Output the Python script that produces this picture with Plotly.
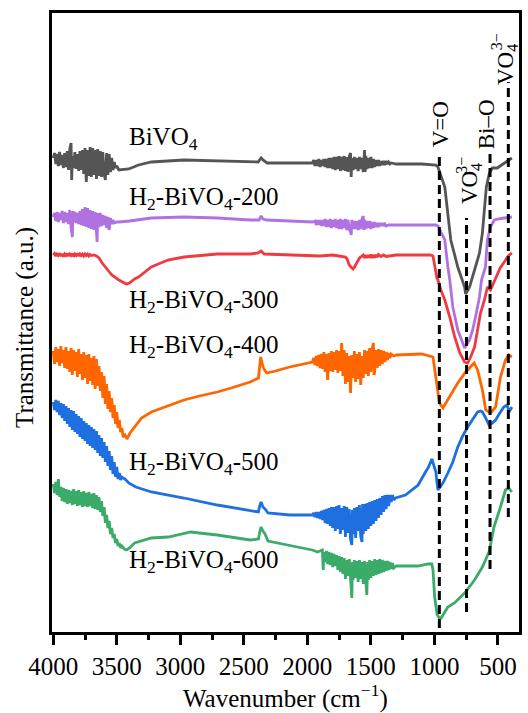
import plotly.graph_objects as go

# FTIR spectra of BiVO4 and H2-treated BiVO4 (wavenumber in cm^-1, offset transmittance in a.u.)
SAMPLES = ["BiVO<sub>4</sub>", "H<sub>2</sub>-BiVO<sub>4</sub>-200", "H<sub>2</sub>-BiVO<sub>4</sub>-300",
           "H<sub>2</sub>-BiVO<sub>4</sub>-400", "H<sub>2</sub>-BiVO<sub>4</sub>-500", "H<sub>2</sub>-BiVO<sub>4</sub>-600"]

BIVO4 = [
    (4000, 476), (3990, 481), (3980, 470), (3970, 480), (3960, 468), (3950, 482), (3940, 469), (3930, 479),
    (3920, 466), (3910, 481), (3900, 467), (3890, 483), (3880, 464), (3870, 485), (3860, 491), (3855, 454),
    (3850, 478), (3840, 466), (3830, 482), (3820, 465), (3810, 480), (3800, 463), (3790, 483), (3780, 464),
    (3770, 484), (3760, 460), (3750, 486), (3740, 452), (3730, 484), (3720, 458), (3710, 487), (3700, 457),
    (3690, 486), (3680, 459), (3670, 484), (3660, 455), (3650, 485), (3640, 458), (3630, 483), (3620, 457),
    (3610, 482), (3600, 460), (3590, 454), (3580, 481), (3570, 459), (3560, 480), (3550, 462), (3540, 476),
    (3530, 464), (3520, 472), (3510, 466), (3500, 468), (3484, 464), (3406, 465), (3329, 469), (3228, 472),
    (2971, 474), (2706, 473), (2450, 472), (2388, 472), (2364, 476), (2349, 474), (2317, 471), (2139, 471),
    (1960, 471), (1950, 474), (1940, 468), (1930, 474), (1920, 468), (1910, 475), (1900, 467), (1890, 474),
    (1880, 468), (1870, 475), (1860, 467), (1850, 475), (1840, 466), (1830, 476), (1820, 466), (1810, 476),
    (1800, 465), (1790, 477), (1780, 464), (1770, 477), (1760, 465), (1750, 478), (1740, 463), (1730, 477),
    (1720, 464), (1710, 478), (1700, 463), (1690, 477), (1680, 462), (1670, 478), (1660, 481), (1655, 457),
    (1650, 476), (1640, 464), (1630, 477), (1620, 465), (1610, 476), (1600, 463), (1590, 477), (1580, 465),
    (1570, 476), (1560, 462), (1550, 484), (1545, 462), (1540, 478), (1530, 465), (1520, 476), (1510, 466),
    (1500, 477), (1490, 466), (1480, 475), (1470, 467), (1460, 474), (1450, 468), (1440, 474), (1430, 468),
    (1420, 473), (1410, 469), (1400, 473), (1390, 469), (1380, 473), (1370, 470), (1360, 472), (1350, 470),
    (1340, 471), (1300, 470), (1100, 470), (988, 469), (972, 467), (918, 447), (894, 421), (871, 394),
    (816, 367), (762, 347), (754, 340), (723, 347), (684, 364), (645, 381), (622, 401), (606, 427),
    (591, 447), (567, 461), (544, 466), (505, 466), (482, 468), (450, 471), (419, 474), (390, 476),
]

H2_200 = [
    (4000, 417), (3990, 421), (3980, 413), (3970, 422), (3960, 412), (3950, 421), (3940, 414), (3930, 423),
    (3920, 411), (3910, 422), (3900, 412), (3890, 421), (3880, 410), (3870, 424), (3860, 407), (3850, 397),
    (3845, 423), (3840, 412), (3830, 422), (3820, 411), (3810, 421), (3800, 410), (3790, 423), (3780, 409),
    (3770, 425), (3760, 408), (3750, 427), (3740, 407), (3730, 426), (3720, 406), (3710, 424), (3700, 405),
    (3690, 423), (3680, 404), (3670, 422), (3660, 396), (3655, 392), (3650, 421), (3640, 407), (3630, 421),
    (3620, 408), (3610, 419), (3600, 409), (3590, 418), (3580, 406), (3570, 417), (3560, 404), (3550, 416),
    (3540, 410), (3530, 414), (3520, 411), (3500, 412), (3484, 412), (3400, 413), (3228, 416), (2971, 417),
    (2706, 416), (2450, 414), (2380, 414), (2364, 418), (2350, 415), (2317, 414), (2139, 413), (1960, 412),
    (1940, 413), (1930, 409), (1920, 414), (1910, 409), (1900, 414), (1890, 408), (1880, 414), (1870, 408),
    (1860, 415), (1850, 407), (1840, 414), (1830, 407), (1820, 415), (1810, 406), (1800, 414), (1790, 407),
    (1780, 415), (1770, 406), (1760, 414), (1750, 405), (1740, 415), (1730, 405), (1720, 414), (1710, 406),
    (1700, 415), (1690, 404), (1680, 414), (1670, 405), (1660, 402), (1655, 399), (1650, 414), (1640, 405),
    (1630, 413), (1620, 405), (1610, 413), (1600, 404), (1590, 414), (1580, 405), (1570, 415), (1560, 418),
    (1555, 404), (1550, 414), (1540, 405), (1530, 413), (1520, 406), (1510, 413), (1500, 405), (1490, 412),
    (1480, 406), (1470, 412), (1460, 407), (1450, 411), (1440, 407), (1430, 411), (1420, 408), (1410, 411),
    (1400, 408), (1390, 410), (1380, 408), (1360, 409), (1100, 409), (988, 409), (972, 408), (918, 394),
    (894, 367), (879, 354), (855, 327), (816, 304), (777, 291), (762, 286), (723, 294), (699, 304),
    (676, 317), (645, 337), (629, 354), (598, 367), (583, 394), (559, 407), (528, 414), (500, 415),
    (450, 416), (390, 417),
]

H2_300 = [
    (4000, 379), (3990, 380.5), (3980, 378), (3970, 380), (3960, 378.5), (3950, 380.5), (3940, 378),
    (3930, 380), (3920, 377.5), (3910, 380), (3900, 378.5), (3890, 380.5), (3880, 378), (3870, 380),
    (3860, 378.5), (3850, 380.5), (3840, 377.5), (3830, 380), (3820, 378.5), (3810, 380.5), (3800, 378),
    (3790, 380), (3780, 378.5), (3770, 380), (3760, 378), (3750, 380), (3740, 378.5), (3730, 380),
    (3720, 378), (3710, 379.5), (3700, 378.5), (3680, 379), (3660, 378), (3640, 376), (3615, 371),
    (3593, 367), (3565, 363), (3539, 359), (3510, 356), (3484, 354), (3440, 351), (3422, 350), (3400, 351),
    (3360, 355), (3329, 357), (3228, 367), (3098, 374), (2971, 377), (2709, 380), (2450, 380), (2388, 381),
    (2364, 383), (2340, 380), (2139, 379), (2000, 379), (1900, 378), (1800, 379), (1750, 378), (1700, 377),
    (1687, 375), (1670, 369), (1657, 367), (1640, 365), (1633, 366), (1620, 369), (1610, 372), (1590, 376),
    (1579, 377), (1560, 379), (1550, 376), (1540, 379), (1530, 376), (1520, 379), (1510, 376.5), (1500, 379.5),
    (1490, 376), (1480, 379), (1470, 376.5), (1460, 379), (1450, 377), (1440, 379.5), (1420, 377.5),
    (1400, 379), (1380, 377.5), (1340, 378), (1300, 379), (1100, 379), (1030, 379), (1011, 378), (995, 366),
    (980, 356), (972, 354), (949, 344), (918, 334), (879, 317), (840, 297), (800, 281), (762, 272),
    (738, 271), (715, 277), (684, 287), (660, 304), (637, 321), (606, 334), (583, 347), (559, 344),
    (528, 353), (505, 360), (482, 366), (450, 372), (419, 378), (390, 381),
]

H2_400 = [
    (4000, 283), (3990, 270), (3980, 287), (3970, 272), (3960, 285), (3950, 268), (3940, 288), (3930, 271),
    (3920, 284), (3910, 266), (3900, 287), (3890, 265), (3880, 283), (3870, 262), (3860, 286), (3850, 259),
    (3840, 284), (3830, 263), (3820, 282), (3810, 257), (3800, 285), (3790, 260), (3780, 280), (3770, 254),
    (3760, 282), (3750, 256), (3740, 279), (3730, 250), (3720, 280), (3710, 253), (3700, 276), (3690, 249),
    (3680, 278), (3670, 245), (3660, 275), (3650, 248), (3640, 268), (3630, 243), (3620, 262), (3610, 236),
    (3600, 258), (3590, 230), (3580, 250), (3570, 225), (3560, 243), (3550, 222), (3540, 236), (3530, 216),
    (3520, 229), (3510, 210), (3500, 222), (3490, 206), (3480, 214), (3470, 202), (3460, 206), (3450, 197),
    (3435, 199), (3420, 195), (3396, 201), (3357, 207), (3330, 212), (3305, 216), (3228, 222), (3100, 228),
    (2971, 234), (2850, 238), (2709, 242), (2600, 246), (2450, 252), (2385, 256), (2375, 268), (2367, 277),
    (2355, 270), (2346, 266), (2320, 261), (2250, 263), (2139, 267), (2000, 271), (1960, 272), (1950, 276),
    (1940, 269), (1930, 278), (1920, 268), (1910, 279), (1900, 266), (1890, 280), (1880, 265), (1870, 282),
    (1860, 262), (1850, 280), (1840, 254), (1830, 281), (1820, 263), (1810, 283), (1800, 262), (1790, 282),
    (1780, 264), (1770, 284), (1760, 261), (1750, 283), (1740, 263), (1730, 291), (1720, 258), (1710, 284),
    (1700, 250), (1690, 281), (1680, 252), (1670, 278), (1660, 241), (1650, 279), (1640, 256), (1630, 283),
    (1620, 252), (1610, 280), (1600, 255), (1590, 282), (1580, 249), (1570, 278), (1560, 256), (1550, 284),
    (1540, 260), (1530, 283), (1520, 258), (1510, 286), (1500, 262), (1490, 285), (1480, 291), (1475, 259),
    (1470, 262), (1460, 284), (1450, 266), (1440, 285), (1430, 268), (1420, 284), (1410, 270), (1400, 283),
    (1390, 272), (1380, 282), (1370, 274), (1360, 281), (1350, 276), (1340, 280), (1320, 278), (1300, 279),
    (1100, 280), (1011, 277), (988, 257), (960, 231), (933, 226), (894, 234), (816, 251), (754, 262),
    (687, 271), (660, 264), (622, 244), (596, 224), (557, 221), (518, 227), (480, 257), (441, 274),
    (415, 279), (390, 277),
]

H2_500 = [
    (4000, 232), (3990, 224), (3980, 234), (3970, 222), (3960, 233), (3950, 219), (3940, 231), (3930, 216),
    (3920, 230), (3910, 213), (3900, 228), (3890, 210), (3880, 226), (3870, 207), (3860, 224), (3850, 204),
    (3840, 223), (3830, 202), (3820, 220), (3810, 200), (3800, 218), (3790, 197), (3780, 216), (3770, 195),
    (3760, 213), (3750, 193), (3740, 211), (3730, 190), (3720, 209), (3710, 188), (3700, 207), (3690, 186),
    (3680, 205), (3670, 184), (3660, 203), (3650, 181), (3640, 199), (3630, 178), (3620, 196), (3610, 176),
    (3600, 192), (3590, 172), (3580, 188), (3570, 168), (3560, 183), (3550, 164), (3540, 178), (3530, 160),
    (3520, 172), (3510, 157), (3500, 167), (3490, 155), (3480, 161), (3470, 154), (3461, 157), (3435, 155),
    (3406, 151), (3350, 147), (3228, 142), (2971, 136), (2709, 129), (2450, 123), (2385, 122), (2375, 128),
    (2364, 132), (2350, 127), (2333, 125), (2310, 121), (2139, 119), (1960, 119), (1950, 121), (1940, 117),
    (1930, 122), (1920, 116), (1910, 122), (1900, 115), (1890, 123), (1880, 114), (1870, 124), (1860, 111),
    (1850, 125), (1840, 110), (1830, 126), (1820, 108), (1810, 127), (1800, 106), (1790, 127), (1780, 103),
    (1770, 128), (1760, 105), (1750, 129), (1740, 100), (1730, 126), (1720, 104), (1710, 128), (1700, 97),
    (1690, 127), (1680, 101), (1670, 125), (1660, 95), (1650, 89), (1645, 124), (1640, 100), (1630, 126),
    (1620, 96), (1610, 127), (1600, 103), (1590, 129), (1580, 98), (1570, 92), (1565, 130), (1560, 100),
    (1550, 130), (1540, 103), (1530, 131), (1520, 105), (1510, 132), (1500, 108), (1490, 133), (1480, 110),
    (1470, 134), (1460, 113), (1450, 135), (1440, 116), (1430, 136), (1420, 119), (1410, 138), (1400, 122),
    (1390, 139), (1380, 125), (1370, 139), (1360, 128), (1350, 139), (1340, 132), (1330, 139), (1320, 134),
    (1306, 136), (1228, 139), (1128, 149), (1070, 162), (1050, 166), (1020, 175), (1000, 168), (988, 162),
    (980, 152), (972, 144), (960, 146), (933, 151), (894, 161), (855, 172), (816, 187), (777, 198),
    (738, 207), (700, 215), (660, 222), (635, 223), (622, 222), (600, 217), (570, 209), (545, 211),
    (518, 214), (490, 220), (454, 227), (427, 229), (412, 222), (390, 227),
]

H2_600 = [
    (4000, 150), (3990, 141), (3980, 152), (3970, 139), (3960, 155), (3950, 137), (3940, 147), (3930, 133),
    (3920, 146), (3910, 132), (3900, 145), (3890, 130), (3880, 144), (3870, 131), (3860, 143), (3850, 129),
    (3840, 145), (3830, 130), (3820, 143), (3810, 128), (3800, 144), (3790, 129), (3780, 142), (3770, 127),
    (3760, 143), (3750, 128), (3740, 141), (3730, 127), (3720, 142), (3710, 128), (3700, 140), (3690, 126),
    (3680, 141), (3670, 125), (3660, 139), (3650, 124), (3640, 137), (3630, 122), (3620, 133), (3610, 118),
    (3600, 127), (3590, 111), (3580, 119), (3570, 106), (3560, 113), (3550, 100), (3540, 106), (3530, 96),
    (3520, 100), (3510, 91), (3500, 95), (3490, 88), (3480, 91), (3470, 86), (3460, 88), (3440, 85),
    (3422, 84), (3400, 86), (3360, 91), (3228, 96), (3095, 97), (2917, 102), (2850, 101), (2709, 99),
    (2450, 94), (2385, 95), (2375, 102), (2364, 107), (2350, 103), (2333, 100), (2310, 93), (2139, 89),
    (2000, 85), (1960, 84), (1920, 82), (1882, 84), (1875, 64), (1870, 82), (1860, 72), (1850, 83),
    (1840, 70), (1830, 82), (1820, 69), (1810, 81), (1800, 67), (1790, 80), (1780, 68), (1770, 79),
    (1760, 64), (1750, 78), (1740, 62), (1730, 77), (1720, 60), (1710, 76), (1700, 55), (1690, 74),
    (1680, 58), (1670, 75), (1660, 48), (1650, 36), (1645, 72), (1640, 54), (1630, 74), (1620, 56),
    (1610, 73), (1600, 52), (1590, 74), (1580, 55), (1570, 72), (1560, 50), (1550, 73), (1540, 45),
    (1532, 39), (1525, 72), (1520, 54), (1510, 74), (1500, 56), (1490, 73), (1480, 58), (1470, 75),
    (1460, 59), (1450, 74), (1440, 60), (1430, 75), (1420, 61), (1410, 74), (1400, 62), (1390, 73),
    (1380, 63), (1370, 73), (1360, 64), (1350, 72), (1340, 65), (1330, 71), (1320, 66), (1300, 68),
    (1128, 68), (1050, 70), (1020, 70), (1011, 64), (998, 37), (978, 19), (960, 16), (947, 16),
    (920, 21), (894, 27), (842, 31), (800, 36), (762, 41), (684, 54), (622, 67), (570, 82),
    (531, 107), (480, 127), (441, 144), (415, 146), (390, 142),
]

SPECTRA = [BIVO4, H2_200, H2_300, H2_400, H2_500, H2_600]
COLORS = ["#555555", "#b072e0", "#ee3b42", "#ff6600", "#1e6fe0", "#3aab69"]

# characteristic bands (cm^-1) with the vertical extent of their guide lines
BANDS = [961, 747, 562, 418]
BAND_TOP = [480, 416, 485, 552]
BAND_BOTTOM = [6, 22, 65, 117]

FONT = "Liberation Serif"

fig = go.Figure()
for pts, color in zip(SPECTRA, COLORS):
    fig.add_trace(go.Scatter(
        x=[p[0] for p in pts], y=[p[1] for p in pts], mode="lines",
        line=dict(color=color, width=2.8), showlegend=False, hoverinfo="skip",
    ))

for wn, top, bottom in zip(BANDS, BAND_TOP, BAND_BOTTOM):
    fig.add_shape(type="line", xref="x", yref="y", x0=wn, x1=wn, y0=bottom, y1=top,
                  line=dict(color="black", width=3, dash="9px,5px"))

# sample labels
label_pos = [(3422, 496), (3422, 436), (3422, 333), (3422, 288), (3422, 171), (3422, 73)]
for text, (lx, ly) in zip(SAMPLES, label_pos):
    fig.add_annotation(x=lx, y=ly, xref="x", yref="y", text=text, showarrow=False,
                       xanchor="left", yanchor="middle",
                       font=dict(family=FONT, size=25, color="black"))

# band assignments, written vertically
band_labels = [
    ("V=O", 953, 510, 23),
    ("VO<sub>4</sub>", 711, 450, 23),
    ("3−", 793, 469, 16),
    ("Bi–O", 591, 510, 23),
    ("VO<sub>4</sub>", 428, 569, 23),
    ("3−", 513, 592, 16),
]
for text, bx, by, size in band_labels:
    fig.add_annotation(x=bx, y=by, xref="x", yref="y", text=text, showarrow=False,
                       textangle=-90, xanchor="center", yanchor="middle",
                       font=dict(family=FONT, size=size, color="black"))

# axis titles
fig.add_annotation(x=0, y=306, xref="paper", yref="y", text="Transmittance (a.u.)", showarrow=False,
                   textangle=-90, xanchor="center", yanchor="middle", xshift=-27,
                   font=dict(family=FONT, size=25, color="black"))
fig.add_annotation(x=0.5, y=0, xref="paper", yref="paper", text="Wavenumber (cm<sup>−1</sup>)",
                   showarrow=False, xanchor="center", yanchor="middle", yshift=-64,
                   font=dict(family=FONT, size=25, color="black"))

fig.update_layout(
    width=528, height=713,
    margin=dict(l=52, r=6, t=13, b=81),
    paper_bgcolor="white", plot_bgcolor="white",
    font=dict(family=FONT, size=25, color="black"),
)
fig.update_xaxes(
    range=[4010, 334], tickvals=[4000, 3500, 3000, 2500, 2000, 1500, 1000, 500],
    ticks="outside", ticklen=10, tickwidth=2.5, tickcolor="black",
    minor=dict(tickvals=[3750, 3250, 2750, 2250, 1750, 1250, 750], ticks="outside",
               ticklen=5, tickwidth=2.5, tickcolor="black"),
    showline=True, linewidth=3, linecolor="black", mirror=True,
    showgrid=False, zeroline=False, tickfont=dict(family=FONT, size=25, color="black"),
)
fig.update_yaxes(
    range=[2, 621], showticklabels=False, ticks="",
    showline=True, linewidth=3, linecolor="black", mirror=True,
    showgrid=False, zeroline=False,
)

fig.write_html("out.html")
